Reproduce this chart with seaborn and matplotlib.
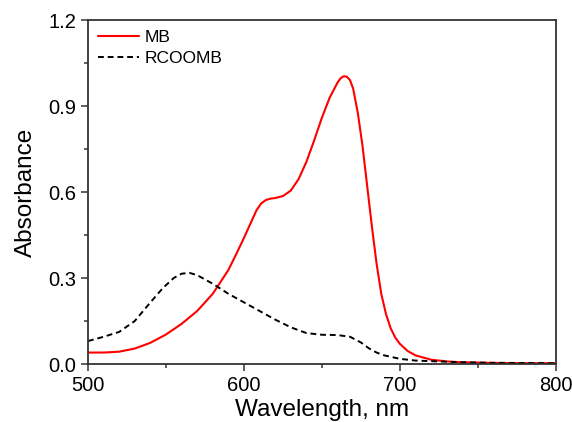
import numpy as np
import pandas as pd
import seaborn as sns
import matplotlib.pyplot as plt
from matplotlib.ticker import MultipleLocator

# MB spectrum (red, solid)
mb_wl = [500, 510, 520, 530, 540, 550, 560, 570, 580, 590, 595, 600, 605, 608, 611,
         614, 617, 620, 625, 630, 635, 640, 645, 650, 655, 660, 662, 664, 666, 668,
         670, 673, 676, 679, 682, 685, 688, 691, 694, 697, 700, 705, 710, 720, 730,
         740, 760, 780, 800]
mb_abs = [0.040, 0.040, 0.043, 0.054, 0.074, 0.103, 0.140, 0.185, 0.245, 0.328, 0.383,
          0.440, 0.500, 0.536, 0.560, 0.572, 0.577, 0.579, 0.586, 0.605, 0.645, 0.705,
          0.780, 0.860, 0.930, 0.982, 0.997, 1.004, 1.002, 0.990, 0.960, 0.875, 0.760,
          0.620, 0.480, 0.350, 0.245, 0.175, 0.125, 0.092, 0.070, 0.045, 0.030, 0.015,
          0.009, 0.006, 0.004, 0.003, 0.003]

# RCOOMB spectrum (black, dashed)
rc_wl = [500, 510, 520, 530, 540, 548, 555, 560, 565, 570, 580, 590, 600, 610, 620,
         630, 640, 650, 660, 668, 675, 680, 685, 690, 700, 710, 720, 740, 760, 800]
rc_abs = [0.080, 0.095, 0.112, 0.150, 0.215, 0.265, 0.300, 0.315, 0.318, 0.310, 0.280,
          0.245, 0.215, 0.185, 0.155, 0.128, 0.108, 0.102, 0.101, 0.095, 0.075, 0.055,
          0.040, 0.030, 0.018, 0.012, 0.010, 0.006, 0.004, 0.003]

mb = pd.DataFrame({'wl': mb_wl, 'abs': mb_abs})
rc = pd.DataFrame({'wl': rc_wl, 'abs': rc_abs})

sns.set_style('ticks')
plt.rcParams['font.family'] = ['Liberation Sans', 'DejaVu Sans']
plt.rcParams['text.color'] = 'black'
plt.rcParams['axes.labelcolor'] = 'black'

fig = plt.figure(figsize=(5.72, 4.22), dpi=100)
ax = fig.add_axes([0.1538, 0.1374, 0.8182, 0.8152])

sns.lineplot(data=mb, x='wl', y='abs', ax=ax, color='#ff0000', lw=1.5, label='MB')
sns.lineplot(data=rc, x='wl', y='abs', ax=ax, color='black', lw=1.4,
             dashes=False, label='RCOOMB')
ax.lines[1].set_dashes((3, 2))

ax.set_xlim(500, 800)
ax.set_ylim(0, 1.2)
ax.xaxis.set_major_locator(MultipleLocator(100))
ax.xaxis.set_minor_locator(MultipleLocator(50))
ax.yaxis.set_major_locator(MultipleLocator(0.3))
ax.yaxis.set_minor_locator(MultipleLocator(0.15))
ax.yaxis.set_major_formatter(plt.FormatStrFormatter('%.1f'))

ax.tick_params(which='major', direction='out', length=5, width=1.1, labelsize=14.5,
               colors='#333333', labelcolor='black')
ax.tick_params(which='minor', direction='out', length=3, width=1.1, colors='#333333')
for s in ax.spines.values():
    s.set_color('#333333')
    s.set_linewidth(1.3)

ax.set_xlabel('Wavelength, nm', fontsize=17.5, labelpad=3)
ax.set_ylabel('Absorbance', fontsize=17.5, labelpad=8)

ax.legend(loc='upper left', frameon=False, fontsize=12.5, handlelength=2.4,
          handletextpad=0.3, borderaxespad=0.15, labelspacing=0.35,
          labelcolor='black')

fig.savefig('out.png', dpi=100)
